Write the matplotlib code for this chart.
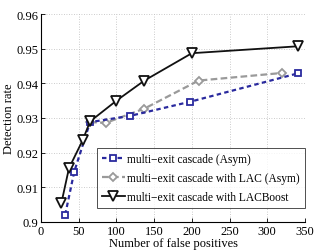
import matplotlib
matplotlib.use("Agg")
import matplotlib.pyplot as plt

asym_x = [32, 44, 65, 118, 198, 341]
asym_y = [0.9021, 0.9145, 0.9288, 0.9306, 0.9347, 0.9429]
lac_x = [65, 86, 137, 209, 320]
lac_y = [0.9288, 0.9286, 0.9327, 0.9408, 0.9430]
boost_x = [27, 37, 55, 65, 100, 137, 200, 341]
boost_y = [0.9055, 0.9155, 0.9235, 0.9290, 0.9350, 0.9408, 0.9487, 0.9507]

labels = ["multi\u2212exit cascade (Asym)",
          "multi\u2212exit cascade with LAC (Asym)",
          "multi\u2212exit cascade with LACBoost"]
xticks = [0, 50, 100, 150, 200, 250, 300, 350]
yticks = [0.9, 0.91, 0.92, 0.93, 0.94, 0.95, 0.96]
ytick_labels = ["0.9", "0.91", "0.92", "0.93", "0.94", "0.95", "0.96"]

plt.rcParams['font.family'] = ['Liberation Serif', 'DejaVu Serif']
plt.rcParams['font.size'] = 8

fig = plt.figure(figsize=(3.16, 2.51), dpi=100)
ax = fig.add_axes([0.13, 0.112, 0.835, 0.828])

ax.plot(asym_x, asym_y, linestyle=(0, (2, 1.5)), color='#2a2a9e', lw=1.6,
        marker='s', ms=4.5, mfc='white', mec='#2a2a9e', mew=1.3, label=labels[0], zorder=3)
ax.plot(lac_x, lac_y, linestyle=(0, (3, 1.5)), color='#9a9a9a', lw=1.6,
        marker='D', ms=4.5, mfc='white', mec='#9a9a9a', mew=1.3, label=labels[1], zorder=2)
ax.plot(boost_x, boost_y, linestyle='-', color='#111111', lw=1.3,
        marker='v', ms=6.5, mfc='white', mec='#111111', mew=1.3, label=labels[2], zorder=4)

ax.set_xlim(0, 350)
ax.set_ylim(0.9, 0.96)
ax.set_xticks(xticks)
ax.set_yticks(yticks)
ax.set_yticklabels(ytick_labels)
ax.tick_params(direction='in', length=3, width=0.6, labelsize=9, pad=2)
ax.grid(True, linestyle=(0, (1, 2)), color='#bbbbbb', lw=0.6)
ax.spines['top'].set_visible(False)
ax.spines['right'].set_visible(False)
ax.set_xlabel("Number of false positives", fontsize=9, labelpad=0)
ax.set_ylabel("Detection rate", fontsize=9, labelpad=1)

leg = ax.legend(loc='lower right', bbox_to_anchor=(1.0, 0.065), fontsize=8.3,
                frameon=True, fancybox=False, edgecolor='#222222',
                handlelength=2.0, handletextpad=0.2, borderpad=0.45,
                labelspacing=0.6, borderaxespad=0)
leg.get_frame().set_linewidth(0.7)

fig.savefig("out.png", dpi=100)
